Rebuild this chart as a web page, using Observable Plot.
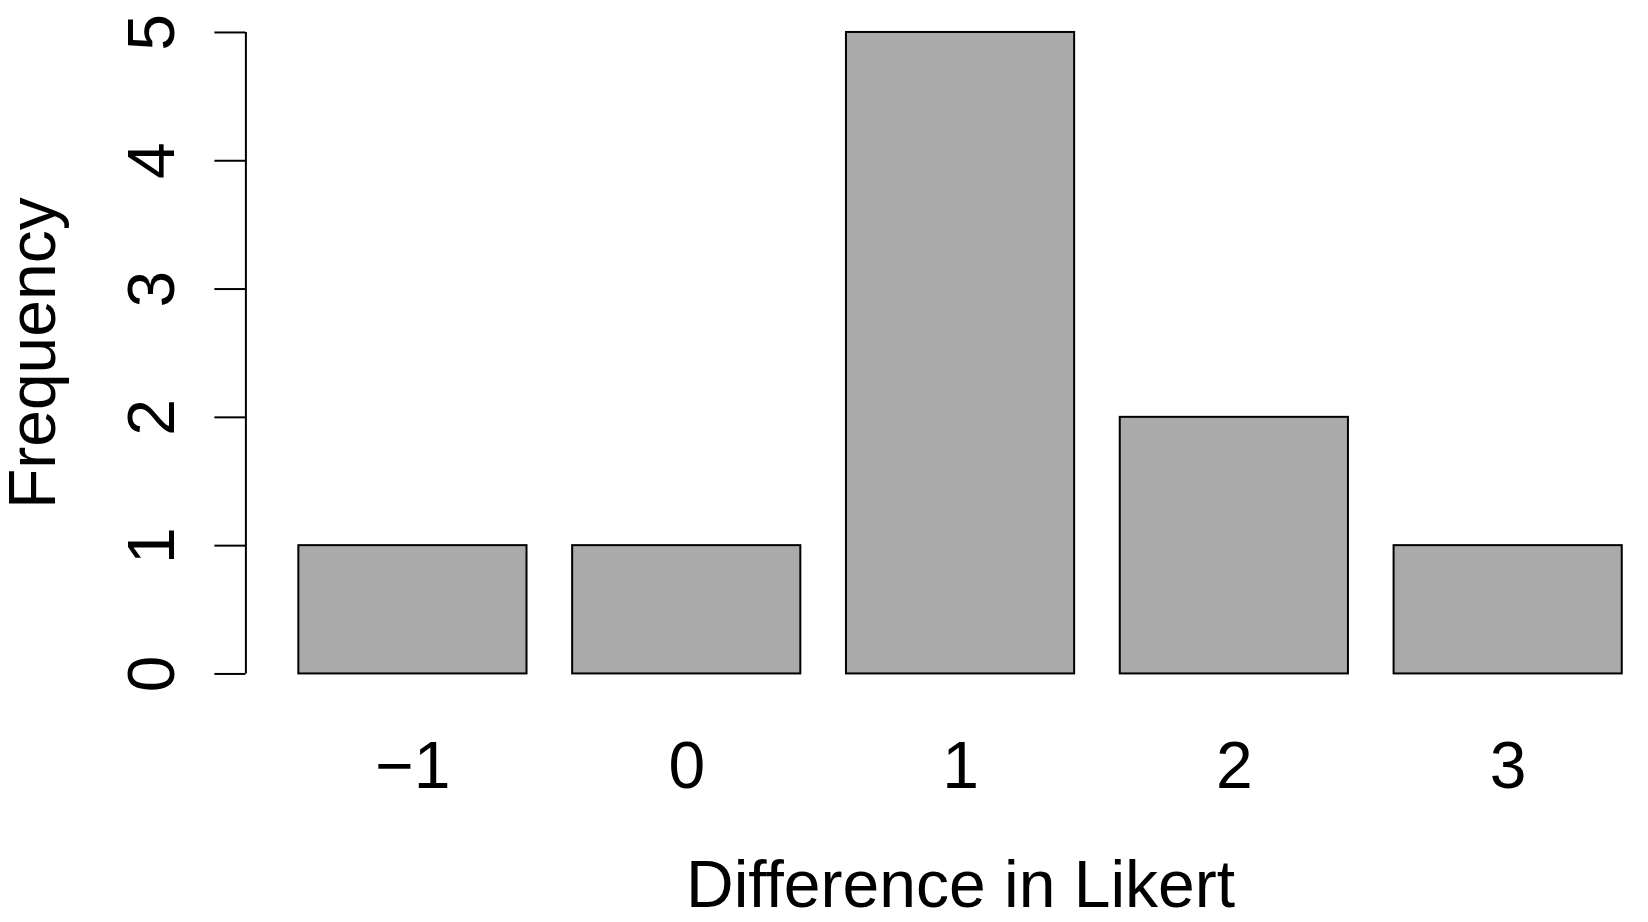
<!DOCTYPE html>
<html>
<head>
<meta charset="utf-8">
<script src="https://cdn.jsdelivr.net/npm/d3@7"></script>
<script src="https://cdn.jsdelivr.net/npm/@observablehq/plot@0.6"></script>
<style>
  html, body { margin: 0; padding: 0; background: #fff; }
  #chart svg { display: block; }
</style>
</head>
<body>
<div id="chart"></div>
<script>
// Data
const categories = [-1, 0, 1, 2, 3];
const frequencies = [1, 1, 5, 2, 1];
const yTicks = [0, 1, 2, 3, 4, 5];
const xTitle = "Difference in Likert";
const yTitle = "Frequency";

// R barplot layout: width 1, space 0.2
const barW = 1, space = 0.2;
const bars = categories.map((c, i) => ({
  cat: c,
  freq: frequencies[i],
  x1: space + i * (barW + space),
  x2: space + i * (barW + space) + barW,
  xm: space + i * (barW + space) + barW / 2
}));
const axisX = -0.032;              // left edge of R plot region
const fmt = d => (d < 0 ? "\u2212" + Math.abs(d) : String(d));
const font = "'Liberation Sans', Arial, Helvetica, sans-serif";

const chart = Plot.plot({
  width: 1648,
  height: 922,
  marginLeft: 245.4,
  marginRight: 0,
  marginTop: 6.3,
  marginBottom: 222.9,
  style: { fontFamily: font, background: "#fff", overflow: "visible", color: "#000" },
  x: { domain: [axisX, 6.115], axis: null },
  y: { domain: [-0.2, 5.2], axis: null },
  marks: [
    Plot.rectY(bars, { x1: "x1", x2: "x2", y1: 0, y2: "freq", fill: "#aaaaaa", stroke: "#000", strokeWidth: 2 }),
    // y axis line and ticks
    Plot.ruleX([axisX], { y1: 0, y2: 5, stroke: "#000", strokeWidth: 2 }),
    Plot.ruleY(yTicks, { y: d => d, x1: axisX - 31 / 228.17, x2: axisX, stroke: "#000", strokeWidth: 2 }),
    // y tick labels (rotated, R las=0 style)
    Plot.text(yTicks, { x: axisX, y: d => d, text: d => String(d), rotate: -90, dx: -72.2, lineAnchor: "bottom", textAnchor: "middle", fontSize: 66, fill: "#000" }),
    // x category labels
    Plot.text(bars, { x: "xm", text: d => fmt(d.cat), frameAnchor: "bottom", dy: 88.2, lineAnchor: "bottom", textAnchor: "middle", fontSize: 66, fill: "#000" }),
    // axis titles
    Plot.text([xTitle], { x: 3.1, text: d => d, frameAnchor: "bottom", dy: 207, lineAnchor: "bottom", textAnchor: "middle", fontSize: 66, fill: "#000" }),
    Plot.text([yTitle], { text: d => d, frameAnchor: "left", rotate: -90, dx: 54 - 245.4, lineAnchor: "bottom", textAnchor: "middle", fontSize: 66, fill: "#000" })
  ]
});
document.getElementById("chart").appendChild(chart);
</script>
</body>
</html>
